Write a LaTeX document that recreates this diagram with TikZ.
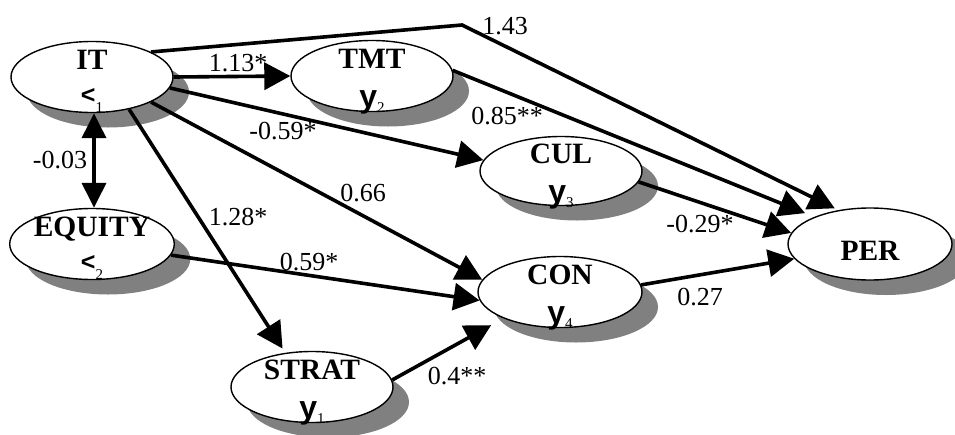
\documentclass[tikz,border=0pt]{standalone}
\usepackage{fontspec}
\setmainfont{Liberation Serif}
\newfontfamily\symsans{Liberation Sans}
\usetikzlibrary{arrows.meta,shadows,shapes.geometric}
\definecolor{shadowgray}{RGB}{128,128,128}
\newcommand\ysym[1]{{\symsans\bfseries\fontsize{32}{32}\selectfont y}\raisebox{-5pt}{\fontsize{15}{15}\selectfont #1}}
\newcommand\xsym[1]{\raisebox{5pt}{\symsans\bfseries\fontsize{25}{25}\selectfont <}\raisebox{-4pt}{\fontsize{15}{15}\selectfont #1}}
\begin{document}
\begin{tikzpicture}[x=1pt,y=-1pt,
  latent/.style={ellipse, draw=black, line width=1.4pt, fill=white,
    minimum width=162pt, minimum height=71pt, inner sep=0pt,
    font=\fontsize{29.5}{31}\selectfont\bfseries,
    text height=0pt, text depth=16pt,
    drop shadow={shadow xshift=16pt, shadow yshift=-15pt, fill=shadowgray, opacity=1}},
  symlab/.style={inner sep=0pt, text height=0pt, text depth=0pt, yshift=-31pt},
  lab/.style={inner sep=0pt, font=\fontsize{26}{28}\selectfont},
  arr/.style={line width=3.6pt, -{Triangle[length=26pt,width=27pt]}},
  dbl/.style={line width=3.6pt, {Triangle[length=25pt,width=24pt]}-{Triangle[length=25pt,width=24pt]}}
]
\useasboundingbox (0,0) rectangle (955,434);

\node[latent, label={[symlab, name=ITs]center:\xsym{1}}] (IT) at (92,77) {IT};
\node[latent, label={[symlab, name=TMTs]center:\ysym{2}}] (TMT) at (372,76) {TMT};
\node[latent, minimum height=69pt, label={[symlab, name=CULs]center:\ysym{3}}] (CUL) at (561,171) {CUL};
\node[latent, label={[symlab, name=EQs]center:\xsym{2}}] (EQUITY) at (92,244) {EQUITY};
\node[latent, label={[symlab, name=STs]center:\ysym{1}}] (STRAT) at (312,387) {STRAT};
\node[latent, minimum width=164pt, label={[symlab, name=CONs]center:\ysym{4}}] (CON) at (560,292) {CON};
\node[latent, minimum width=164pt, minimum height=72pt, text height=32pt, text depth=0pt] (PER) at (870,244) {PER};

\coordinate (bend) at (462,25);

\draw[arr, shorten >=4pt] (IT.23) -- (bend) -- (PER.133);
\draw[arr] (IT.0) -- (TMT.180);
\draw[arr] (IT.-8) -- (CUL.172);
\draw[arr] (IT.-23) -- (CON.171);
\draw[arr, shorten >=5pt] (IT.-41) -- (STRAT.128);
\draw[dbl] ([xshift=2pt]IT.south) -- ([xshift=2pt]EQUITY.north);
\draw[arr] (EQUITY.-8) -- (CON.186);
\draw[arr, shorten >=14pt] (STRAT.5) -- (CON.205);
\draw[arr, shorten >=10pt] (TMT.4) -- (PER.154.5);
\draw[arr] (CUL.-8) -- (PER.172);
\draw[arr] (CON.5.5) -- (PER.191);

\node[lab] (l143) at (505,26) {1.43};
\node[lab] (l113) at (238,63) {1.13*};
\node[lab] (l059a) at (283,131) {-0.59*};
\node[lab] (l066) at (363,193) {0.66};
\node[lab] (l128) at (238,217) {1.28*};
\node[lab] (l003) at (60,160) {-0.03};
\node[lab] (l059b) at (309,262) {0.59*};
\node[lab] (l04) at (457,376) {0.4**};
\node[lab] (l085) at (507,116) {0.85**};
\node[lab] (l029) at (700,224) {-0.29*};
\node[lab] (l027) at (700,297) {0.27};
\end{tikzpicture}
\end{document}
